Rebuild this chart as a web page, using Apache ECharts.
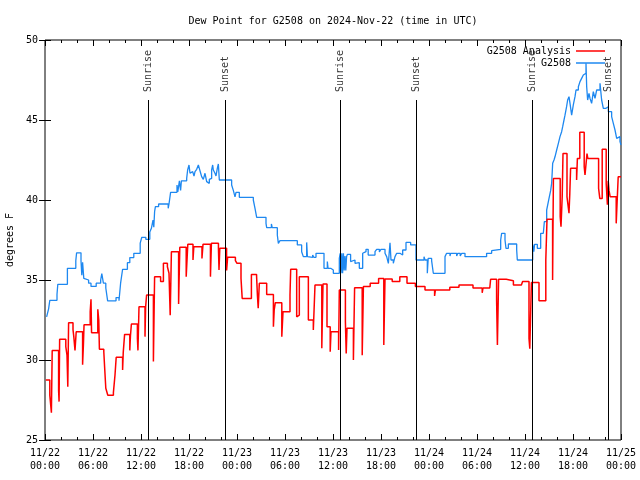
<!DOCTYPE html>
<html>
<head>
<meta charset="utf-8">
<script src="https://cdn.jsdelivr.net/npm/echarts@6/dist/echarts.min.js"></script>
<style>html,body{margin:0;padding:0;background:#fff}#c{width:640px;height:480px}</style>
</head>
<body>
<div id="c"></div>
<script>
// hours since 2024-11-22 00:00 UTC
var xTickLabels = ['11/22\n00:00','11/22\n06:00','11/22\n12:00','11/22\n18:00','11/23\n00:00','11/23\n06:00','11/23\n12:00','11/23\n18:00','11/24\n00:00','11/24\n06:00','11/24\n12:00','11/24\n18:00','11/25\n00:00'];
var sunriseTimes = [12.9, 36.92, 60.92];
var sunsetTimes = [22.58, 46.46, 70.42];

var redT = [0.1,0.6,0.8,0.9,1.7,1.76,1.83,2.6,2.75,2.85,2.95,3.5,3.6,3.75,3.9,4.7,4.8,4.88,5.65,5.75,5.82,6.6,6.72,6.8,7.35,7.45,7.6,7.85,8.55,8.75,8.9,9.7,9.78,9.95,10.6,10.68,10.8,11.55,11.62,11.75,12.5,12.58,12.7,13.55,13.7,14.45,14.8,15.3,15.5,15.65,15.8,16.7,16.85,17.65,17.85,18.5,18.6,19.62,19.75,20.68,20.8,21.68,21.75,21.85,22.7,22.83,23.8,24.0,24.5,24.65,25.8,26.45,26.55,26.65,26.79,27.71,28.55,28.65,28.79,29.6,29.75,30.625,30.71,31.46,31.6,31.79,32.92,33.54,33.75,34.6,34.75,35.25,35.65,35.75,36.7,36.79,37.55,37.65,37.75,38.55,38.7,39.65,39.8,40.65,41.7,42.35,42.5,43.4,44.35,45.25,46.3,47.5,48.7,48.8,50.6,51.75,53.5,54.65,54.75,55.6,55.7,56.45,56.55,56.7,57.65,58.55,59.55,59.7,60.5,60.6,60.8,61.75,62.6,62.75,63.45,63.55,64.4,64.5,64.65,64.75,65.25,65.5,65.6,65.7,66.45,66.55,66.85,67.4,67.5,67.75,67.85,69.2,69.35,69.65,70.15,70.3,70.4,70.5,70.65,71.4,71.65,72.0];
var redV = [28.75,27.8,26.7,30.6,28.1,27.4,31.3,30.83,30.3,28.33,32.33,31.9,31.46,30.6,31.77,29.7,30.94,32.2,33.02,33.8,31.7,33.17,32.5,30.67,30.52,29.58,28.23,27.8,27.96,29.06,30.17,29.375,30.46,31.6,30.6,31.5,32.25,31.35,30.6,33.33,31.46,33.33,34.06,29.9,35.21,34.9,36.04,35.83,35.42,32.8,36.77,33.5,37.04,35.21,37.23,36.25,37.08,36.35,37.23,35.21,37.29,36.98,35.625,36.98,35.6,36.42,36.21,36.04,35.1,33.85,35.35,35.21,34.06,33.23,34.79,34.1,32.08,33.125,33.58,31.46,33.02,34.06,35.67,32.7,32.81,35.21,32.5,31.875,34.69,30.73,34.75,32.08,30.52,31.77,30.625,34.375,32.4,30.4,31.98,30.0,34.52,30.3,34.6,34.79,35.1,30.94,35.06,34.9,35.2,34.79,34.6,34.375,34.0,34.375,34.54,34.69,34.5,34.2,34.5,34.375,35.04,33.75,30.94,35.04,34.96,34.69,34.6,34.9,31.35,30.7,34.85,33.71,36.25,38.79,35.0,41.35,38.96,38.33,40.2,42.9,40.2,39.17,40.4,41.98,41.25,42.6,44.23,42.08,41.56,42.9,42.6,40.73,40.1,43.17,41.04,39.7,41.2,40.6,40.2,38.54,41.45,41.45];

var blueT = [0.2,0.45,0.6,1.5,1.6,2.8,3.85,3.95,4.5,4.6,4.7,4.85,5.0,5.45,5.75,6.4,6.96,7.1,7.3,7.6,7.83,8.45,8.6,8.88,9.25,9.45,9.7,10.3,10.6,11.1,11.9,12.1,12.6,13.1,13.3,13.5,13.6,13.7,13.8,14.2,15.4,15.5,15.7,16.5,16.6,16.8,16.95,17.05,17.71,17.83,18.0,18.125,18.33,18.46,18.625,18.75,18.96,19.17,19.29,19.46,19.58,19.71,19.79,20.0,20.21,20.42,20.54,20.625,20.83,20.96,21.04,21.25,21.375,21.54,21.67,21.79,23.33,23.54,23.75,23.875,24.29,26.04,26.25,26.46,27.625,27.71,28.3,28.4,29.04,29.17,29.375,31.54,32.08,32.29,32.71,32.8,32.92,33.46,33.6,33.875,34.875,35.29,35.38,35.71,36.04,36.79,36.9,37.0,37.1,37.2,37.3,37.4,37.5,37.6,37.7,37.8,38.2,38.33,38.75,38.96,39.29,39.71,39.875,40.125,40.4,41.25,41.46,41.8,42.0,42.5,42.71,42.92,43.125,43.25,43.54,43.75,43.96,44.375,44.71,45.125,45.71,46.375,46.67,46.875,47.375,47.5,47.79,47.9,48.33,48.54,50.0,50.2,50.625,50.7,51.46,51.6,51.9,52.1,52.5,55.2,55.83,56.04,56.96,57.08,57.5,57.625,57.92,58.96,59.04,60.96,61.1,61.2,61.54,61.96,62.29,62.42,62.71,62.92,63.04,63.21,63.33,63.46,63.625,63.75,63.96,64.17,64.375,64.58,64.71,64.875,65.0,65.2,65.33,65.5,65.625,65.83,66.04,66.25,66.375,66.67,66.875,67.08,67.29,67.5,67.625,67.71,67.83,68.0,68.125,68.33,68.54,68.75,68.96,69.375,69.58,69.79,70.125,70.42,70.83,71.04,71.25,71.46,71.67,71.875,72.0];
var blueV = [32.7,33.2,33.73,34.1,34.73,35.73,36.2,36.7,36.2,35.3,36.1,35.1,35.0,34.8,34.6,34.8,35.0,35.4,34.8,34.5,33.7,33.8,33.7,33.9,33.7,34.8,35.67,36.08,36.4,36.67,37.3,37.67,37.54,38.0,38.23,38.75,38.3,39.27,39.58,39.75,39.48,39.75,40.48,40.94,40.5,41.2,40.6,41.2,41.35,41.875,42.19,41.67,41.77,41.67,41.5,41.77,41.92,42.19,41.98,41.67,41.46,41.56,41.29,41.67,41.15,41.04,41.29,41.35,41.875,42.19,41.875,41.67,41.5,41.98,42.25,41.25,40.94,40.6,40.2,40.48,40.17,40.0,39.48,38.92,38.54,38.27,38.5,38.27,37.81,37.29,37.46,37.19,36.77,36.46,37.35,36.46,36.42,36.56,36.42,36.67,35.73,36.15,35.73,35.625,35.42,36.35,36.67,35.42,36.67,35.42,36.67,35.6,36.5,35.6,36.46,36.6,36.15,36.25,36.04,36.08,35.73,36.67,36.77,36.92,36.56,36.77,36.92,36.75,36.92,36.67,36.46,36.04,37.33,36.25,36.04,36.46,36.67,36.56,36.875,37.35,37.19,36.25,36.35,36.25,36.46,36.25,35.42,36.35,36.2,35.42,36.46,36.67,36.5,36.67,36.5,36.67,36.5,36.67,36.46,36.67,36.83,36.92,37.5,37.92,37.5,36.98,37.25,36.875,36.25,37.23,36.77,37.23,36.98,37.92,37.8,38.65,39.375,39.9,40.2,40.6,41.04,42.29,42.5,42.7,43.125,43.54,43.96,44.27,44.58,45.0,45.3,45.83,46.25,46.46,46.04,45.3,45.94,46.46,46.875,47.08,47.4,47.6,47.81,47.92,48.54,47.08,46.25,46.67,46.35,46.04,46.77,46.35,46.875,47.29,46.25,45.73,45.83,45.52,45.21,44.79,44.375,43.85,43.96,43.65,43.44];

function zip(t, v) { return t.map(function (x, i) { return [x, v[i]]; }); }

var FONT = 'DejaVu Sans Mono';
var lineTop = 46.25, labelAnchor = 46.75;

var sunLines = sunriseTimes.concat(sunsetTimes).map(function (h) {
  return [{ coord: [h, 25] }, { coord: [h, lineTop] }];
});
var sunLabels = sunriseTimes.map(function (h) { return { value: [h, labelAnchor], name: 'Sunrise' }; })
  .concat(sunsetTimes.map(function (h) { return { value: [h, labelAnchor], name: 'Sunset' }; }));

var xCommon = {
  type: 'value', min: 0, max: 72, interval: 6,
  axisLine: { show: false },
  axisTick: { show: true, inside: true, length: 6, lineStyle: { color: '#000', width: 1 } },
  minorTick: { show: true, splitNumber: 3, length: 3, lineStyle: { color: '#000', width: 1 } },
  splitLine: { show: false }, minorSplitLine: { show: false }
};
var yCommon = {
  type: 'value', min: 25, max: 50, interval: 5,
  axisLine: { show: false },
  axisTick: { show: true, inside: true, length: 6, lineStyle: { color: '#000', width: 1 } },
  splitLine: { show: false }
};

var chart = echarts.init(document.getElementById('c'), null, { renderer: 'canvas' });
chart.setOption({
  animation: false,
  backgroundColor: '#fff',
  textStyle: { fontFamily: FONT },
  title: {
    text: 'Dew Point for G2508 on 2024-Nov-22 (time in UTC)',
    left: 328, top: 11, textAlign: 'center',
    textStyle: { fontFamily: FONT, fontSize: 10, fontWeight: 'normal', color: '#000' }
  },
  legend: {
    data: ['G2508 Analysis', 'G2508'],
    orient: 'vertical', align: 'right', right: 30, top: 40,
    icon: 'rect', itemWidth: 29, itemHeight: 1.5, itemGap: 0,
    textStyle: { fontFamily: FONT, fontSize: 10, color: '#000', lineHeight: 12 }
  },
  grid: { left: 45, right: 19, top: 40, bottom: 40, show: true, borderColor: '#000', borderWidth: 1, backgroundColor: 'transparent', containLabel: false, outerBoundsMode: 'none' },
  xAxis: [
    Object.assign({}, xCommon, {
      position: 'bottom',
      axisLabel: {
        margin: 7, color: '#000', fontFamily: FONT, fontSize: 10, lineHeight: 13,
        formatter: function (v) { return xTickLabels[Math.round(v / 6)]; }
      }
    }),
    Object.assign({}, xCommon, { position: 'top', axisLabel: { show: false } })
  ],
  yAxis: [
    Object.assign({}, yCommon, {
      position: 'left', name: 'degrees F', nameLocation: 'middle', nameGap: 29, nameRotate: 90,
      nameTextStyle: { fontFamily: FONT, fontSize: 10, color: '#000' },
      axisLabel: { margin: 7, color: '#000', fontFamily: FONT, fontSize: 10 }
    }),
    Object.assign({}, yCommon, { position: 'right', axisLabel: { show: false } })
  ],
  series: [
    {
      name: 'G2508 Analysis', type: 'line', step: 'end', data: zip(redT, redV),
      showSymbol: false, symbol: 'none', color: '#ff0000',
      lineStyle: { color: '#ff0000', width: 1.5 }, z: 3
    },
    {
      name: 'G2508', type: 'line', step: 'end', data: zip(blueT, blueV),
      showSymbol: false, symbol: 'none', color: '#1e88f0',
      lineStyle: { color: '#1e88f0', width: 1.3 }, z: 2
    },
    {
      name: 'sun', type: 'scatter', data: sunLabels, symbolSize: 0, z: 4,
      label: {
        show: true, position: 'inside', rotate: 90, align: 'left', verticalAlign: 'middle',
        formatter: function (p) { return p.name; },
        fontFamily: FONT, fontSize: 10, color: '#000'
      },
      markLine: {
        silent: true, symbol: 'none', animation: false,
        lineStyle: { color: '#000', width: 1, type: 'solid' },
        label: { show: false },
        data: sunLines
      }
    }
  ]
});
</script>
</body>
</html>
